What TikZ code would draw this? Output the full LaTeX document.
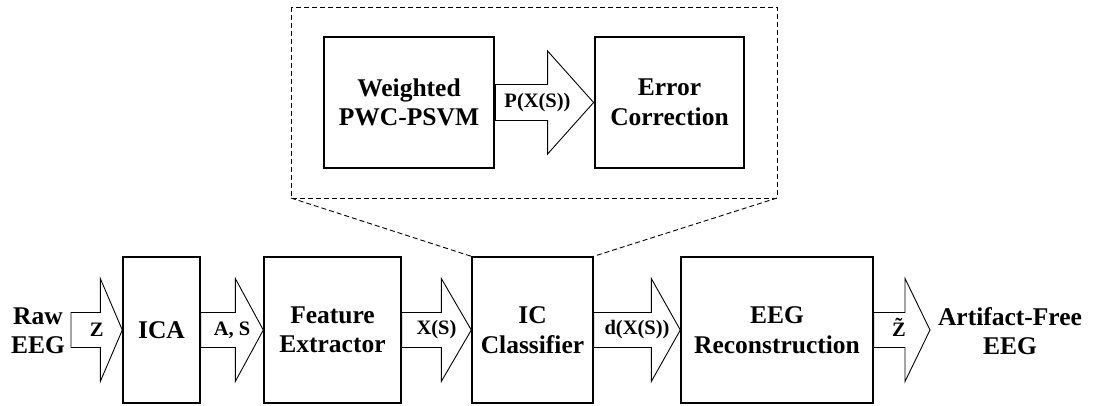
\documentclass[tikz,border=0pt]{standalone}
\usepackage{fontspec}
\setmainfont{Liberation Serif}
\usetikzlibrary{calc}

\newcommand\bigtext{\fontsize{25.5}{29.5}\selectfont\bfseries}
\newcommand\smalltext{\fontsize{20.5}{23}\selectfont\bfseries}
% Z with a spacing tilde stacked above it
\newcommand\ztilde{{\ooalign{Z\cr\hidewidth\raisebox{0.2em}{\char"02DC}\hidewidth\cr}}}

\tikzset{
  stage/.style={draw, line width=1.4pt, inner sep=0pt, align=center, font=\bigtext},
  substage/.style={draw, line width=2.8pt, inner sep=0pt, align=center, font=\bigtext},
  plain/.style={inner sep=0pt, align=center, font=\bigtext},
  flow/.style={draw, line width=0.9pt, line join=miter},
  flowlabel/.style={inner sep=0pt, font=\smalltext},
  zoomframe/.style={draw, line width=0.9pt, dash pattern=on 5pt off 3pt},
}

% block arrow from one anchor to another:
% [label xshift]{from}{to}{head length}{half shaft}{half head}{label name}{label}
\newcommand\blockarrow[8][0pt]{%
  \draw[flow] let \p1=(#2), \p2=(#3) in
    (\x1,\y1+#5) -- (\x2-#4,\y1+#5) -- (\x2-#4,\y1+#6) -- (\x2,\y1)
    -- (\x2-#4,\y1-#6) -- (\x2-#4,\y1-#5) -- (\x1,\y1-#5) -- cycle;
  \node[flowlabel, xshift=#1] (#7) at ($(#2)!0.5!(#3)$) {#8};
}

\begin{document}
\begin{tikzpicture}[x=1pt, y=-1pt]
  \useasboundingbox (0,0) rectangle (1094,405);

  % main processing chain
  \node[plain] (raw) at (38,331) {Raw\\EEG};
  \node[stage, minimum width=77pt, minimum height=146pt] (ica) at (161.5,330) {ICA};
  \node[stage, minimum width=137pt, minimum height=146pt] (fe) at (332.5,330) {Feature\\Extractor};
  \node[stage, minimum width=121pt, minimum height=146pt] (ic) at (532.5,330) {IC\\Classifier};
  \node[stage, minimum width=192pt, minimum height=146pt] (rec) at (777,330) {EEG\\Reconstruction};
  \node[plain] (clean) at (1010,331) {Artifact-Free\\EEG};

  \coordinate (zin) at (71,330);
  \coordinate (zout) at (930,330);

  \blockarrow{zin}{ica.west}{22pt}{17.5pt}{51.5pt}{lz}{Z}
  \blockarrow{ica.east}{fe.west}{28pt}{17.5pt}{51.5pt}{las}{A, S}
  \blockarrow{fe.east}{ic.west}{30pt}{17.5pt}{51.5pt}{lx}{X(S)}
  \blockarrow{ic.east}{rec.west}{29pt}{17.5pt}{51.5pt}{ld}{d(X(S))}
  \blockarrow[-3pt]{rec.east}{zout}{25pt}{17.5pt}{51.5pt}{lzt}{\ztilde}

  % detail of the IC classifier, inside a dashed frame
  \coordinate (zmnw) at (291,7);
  \coordinate (zmse) at (777,198);
  \draw[zoomframe] (zmnw) rectangle (zmse);
  \node[substage, minimum width=170pt, minimum height=131pt] (wp) at (409,102.5) {Weighted\\PWC-PSVM};
  \node[substage, minimum width=149pt, minimum height=131pt] (ec) at (669.5,102.5) {Error\\Correction};

  \blockarrow[-7pt]{wp.east}{ec.west}{46pt}{18pt}{51.5pt}{lp}{P(X(S))}

  \draw[zoomframe] (zmnw |- zmse) -- (ic.north west);
  \draw[zoomframe] (zmse) -- (ic.north east);
\end{tikzpicture}
\end{document}
